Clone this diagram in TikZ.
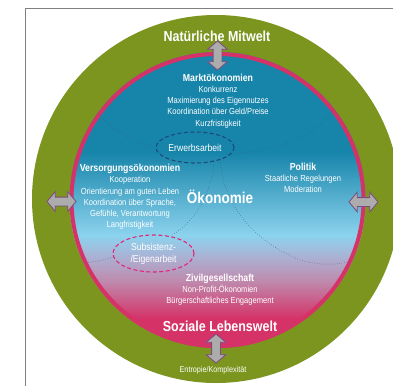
\documentclass[tikz,border=0pt]{standalone}
\usepackage{fontspec}
\setmainfont{Liberation Sans}[FakeStretch=0.86]
\usetikzlibrary{positioning, shapes.geometric, shapes.arrows}

\definecolor{mitwelt}{RGB}{123,149,31}
\definecolor{lebenswelt}{RGB}{213,51,104}
\definecolor{markt}{RGB}{23,133,170}
\definecolor{hellblau}{RGB}{140,211,238}
\definecolor{lavendel}{RGB}{170,178,212}
\definecolor{mauve}{RGB}{190,140,175}
\definecolor{erwerbrand}{RGB}{31,74,120}
\definecolor{subsistrand}{RGB}{224,40,122}
\definecolor{pfeilrand}{RGB}{125,74,130}

\newcommand{\headfont}{\fontsize{10.2}{11.2}\selectfont\bfseries}

\pgfdeclareverticalshading{oekoshade}{100bp}{color(0bp)=(lebenswelt); color(30bp)=(lebenswelt);
  color(36.5bp)=(mauve); color(40.5bp)=(lavendel); color(44bp)=(hellblau); color(58bp)=(markt);
  color(100bp)=(markt)}

\begin{document}
\begin{tikzpicture}[
    x=1pt, y=-1pt,
    title/.style={text=white, font=\fontsize{14.5}{17}\selectfont\bfseries},
    region/.style={text=white, align=center, inner sep=0, font=\fontsize{8.8}{11.2}\selectfont},
    arbeit/.style={ellipse, text=white, align=center, inner sep=0, line width=1.1pt,
        dash pattern=on 4pt off 2.5pt, font=\fontsize{10}{12}\selectfont},
    dotline/.style={draw=erwerbrand!70!gray, line width=0.5pt, dotted},
    dblarrow/.style={double arrow, draw=pfeilrand, fill=gray!65, line width=0.8pt,
        inner xsep=0pt, inner ysep=4pt, minimum height=29pt,
        double arrow head extend=5.5pt, double arrow tip angle=100}
]
    \useasboundingbox (0,0) rectangle (393,386);
    \clip (0,0) rectangle (393,386);

    % frame
    \draw[gray, line width=0.8pt] (25,386) -- (25,8) -- (393,8);

    % Mitwelt und Lebenswelt
    \fill[mitwelt] (216,199) circle (184pt);
    \shade[shading=oekoshade] (217.5,200) circle (148pt);
    \draw[lebenswelt, line width=4pt] (217.5,200) circle (146pt);

    % points on the inner circle
    \coordinate (cTL) at (98,113);
    \coordinate (cTR) at (333,108);
    \coordinate (cL) at (84,263);
    \coordinate (cR) at (350,261);

    % Arbeit
    \node[arbeit, draw=erwerbrand, minimum width=78pt, minimum height=31pt]
        (erwerb) at (195,147.5) {Erwerbsarbeit};
    \node[arbeit, draw=subsistrand, minimum width=81pt, minimum height=37pt]
        (subsist) at (153.5,253.5) {Subsistenz-\\/Eigenarbeit};

    % region borders
    \draw[dotline] (cTL) .. controls (112,130) and (135,143) .. (erwerb.west);
    \draw[dotline] (erwerb.-10) .. controls (285,150) and (322,132) .. (cTR);
    \draw[dotline] (erwerb.-36) .. controls (211,195) and (195,222) .. (subsist.46);
    \draw[dotline] (subsist.185) .. controls (100,261) .. (cL);
    \draw[dotline] (erwerb.-26) .. controls (222,200) and (250,240) .. (300,260)
        .. controls (320,266) and (340,265) .. (cR);

    % texts
    \node[title] (mitwelt) at (217,36) {Natürliche Mitwelt};
    \node[title] (lebenswelt) at (220,326) {Soziale Lebenswelt};
    \node[title, font=\fontsize{15.7}{18}\selectfont\bfseries] (oeko) at (220,197) {Ökonomie};
    \node[region] (markt) at (218,101) {{\headfont Marktökonomien}\\Konkurrenz\\
        Maximierung des Eigennutzes\\Koordination über Geld/Preise\\Kurzfristigkeit};
    \node[region] (versorgung) at (130,197) {{\headfont Versorgungsökonomien}\\Kooperation\\
        Orientierung am guten Leben\\Koordination über Sprache,\\Gefühle, Verantwortung\\
        Langfristigkeit};
    \node[region] (politik) at (303,178) {{\headfont Politik}\\Staatliche Regelungen\\Moderation};
    \node[region] (zivil) at (220,290) {{\headfont Zivilgesellschaft}\\Non-Profit-Ökonomien\\
        Bürgerschaftliches Engagement};

    % Austausch
    \node[dblarrow, rotate=90] (arrTop) at (217.5,55.5) {};
    \node[dblarrow] (arrLeft) at (61.5,201.5) {};
    \node[dblarrow] (arrRight) at (363.5,202) {};
    \node[dblarrow, rotate=90] (arrBot) at (216,348.5) {};
    \node[region, font=\fontsize{8.4}{10}\selectfont, below=3pt of arrBot.west, xshift=-3pt]
        (entropie) {Entropie/Komplexität};
\end{tikzpicture}
\end{document}
